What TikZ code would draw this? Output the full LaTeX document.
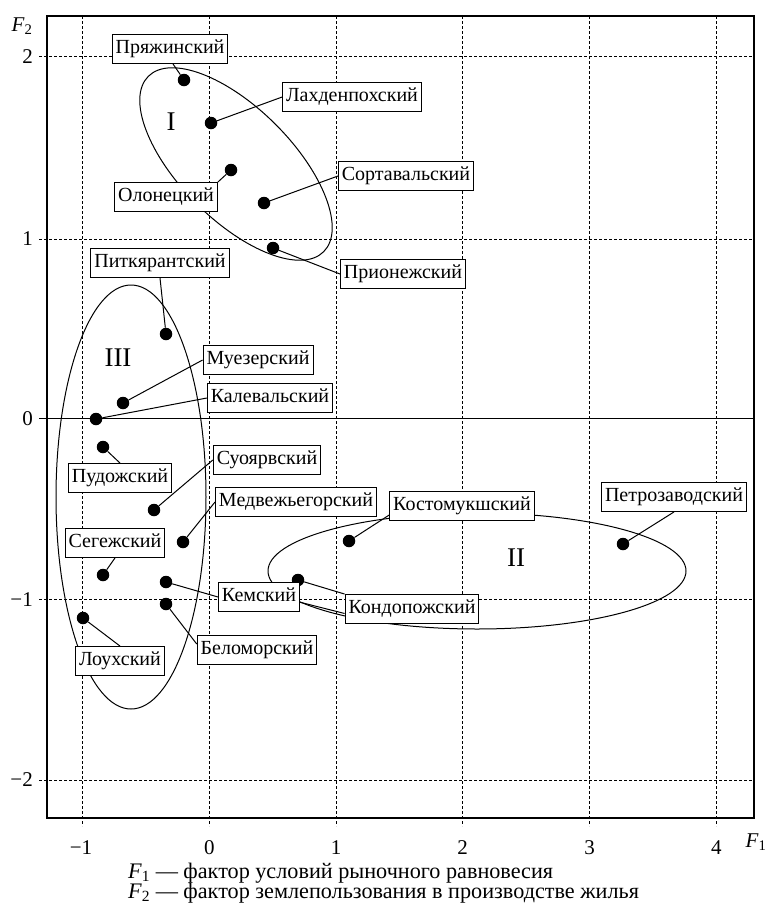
\documentclass[tikz,border=0pt]{standalone}
\usepackage{fontspec}
\setmainfont{Liberation Serif}
\usetikzlibrary{calc}
\begin{document}
\begin{tikzpicture}[x=1pt,y=-1pt,
  lbl/.style={draw, line width=0.9pt, fill=white, inner xsep=3.5pt, inner ysep=0pt,
    minimum height=29pt, text height=13.5pt, text depth=4.5pt, font=\fontsize{20}{20}\selectfont},
  pt/.style={circle, fill=black, inner sep=0pt, minimum size=12.5pt},
  conn/.style={line width=1pt},
  gridl/.style={dash pattern=on 3pt off 2pt, line width=0.8pt},
  tick/.style={font=\fontsize{21}{21}\selectfont, inner sep=0pt},
  capt/.style={font=\fontsize{22.2}{22.2}\selectfont, inner sep=0pt, anchor=base west},
  roman/.style={font=\fontsize{27}{27}\selectfont, inner sep=0pt}]
\useasboundingbox (0,0) rectangle (768,911);
% grid
\foreach \x in {82.7,209.3,336,462.7,589.7,716.3}
  \draw[gridl] (\x,16) -- (\x,826);
\foreach \y in {56.7,239,599.3,780}
  \draw[gridl] (39,\y) -- (754,\y);
\draw[line width=1pt] (39,418.7) -- (754,418.7);
\draw[line width=1.2pt] (47,16) rectangle (754,818);
% tick labels
\node[tick, anchor=east] at (33,56.7) {2};
\node[tick, anchor=east] at (33,239) {1};
\node[tick, anchor=east] at (33,418.7) {0};
\node[tick, anchor=east] at (33,599.3) {−1};
\node[tick, anchor=east] at (33,780) {−2};
\node[tick] at (81,848) {−1};
\node[tick] at (209.3,848) {0};
\node[tick] at (336,848) {1};
\node[tick] at (462.7,848) {2};
\node[tick] at (589.7,848) {3};
\node[tick] at (716.3,848) {4};
\node[tick] at (22,26) {\textit{F}\textsubscript{2}};
\node[tick] at (756,842) {\textit{F}\textsubscript{1}};
% caption
\node[capt] at (128,878) {\textit{F}\textsubscript{1} — фактор условий рыночного равновесия};
\node[capt] at (128,898) {\textit{F}\textsubscript{2} — фактор землепользования в производстве жилья};
% ellipses
\draw[conn, rotate around={-45:(236,164)}] (236,164) ellipse [x radius=124pt, y radius=56pt];
\draw[conn] (131,497) ellipse [x radius=75pt, y radius=212pt];
\draw[conn] (477,571) ellipse [x radius=209pt, y radius=58pt];
\node[roman] at (171,122) {I};
\node[roman] at (118,358) {III};
\node[roman] at (516,558) {II};
% points
\node[pt] (d1) at (184,80) {};
\node[pt] (d2) at (211,123) {};
\node[pt] (d3) at (231,170) {};
\node[pt] (d4) at (264,203) {};
\node[pt] (d5) at (273,248) {};
\node[pt] (d6) at (166,334) {};
\node[pt] (d7) at (123,403) {};
\node[pt] (d8) at (96,419) {};
\node[pt] (d9) at (103,447) {};
\node[pt] (d10) at (154,510) {};
\node[pt] (d11) at (183,542) {};
\node[pt] (d12) at (103,575) {};
\node[pt] (d13) at (166,582) {};
\node[pt] (d14) at (166,604) {};
\node[pt] (d15) at (83,618) {};
\node[pt] (d16) at (349,541) {};
\node[pt] (d17) at (298,580) {};
\node[pt] (d18) at (623,544) {};
% labels
\node[lbl] (b1) at (170,49) {Пряжинский};
\node[lbl] (b2) at (352,97) {Лахденпохский};
\node[lbl] (b3) at (166,197) {Олонецкий};
\node[lbl] (b4) at (406,176) {Сортавальский};
\node[lbl] (b5) at (403,274) {Прионежский};
\node[lbl] (b6) at (160,263) {Питкярантский};
\node[lbl] (b7) at (258,360) {Муезерский};
\node[lbl] (b8) at (270,398) {Калевальский};
\node[lbl] (b9) at (120,478) {Пудожский};
\node[lbl] (b10) at (267,460) {Суоярвский};
\node[lbl] (b11) at (296,502) {Медвежьегорский};
\node[lbl] (b12) at (115,543) {Сегежский};
\node[lbl] (b13) at (259,597) {Кемский};
\node[lbl] (b14) at (257,650) {Беломорский};
\node[lbl] (b15) at (120,661) {Лоухский};
\node[lbl] (b16) at (462,506) {Костомукшский};
\node[lbl] (b17) at (412,609) {Кондопожский};
\node[lbl] (b18) at (674,497) {Петрозаводский};
% connectors
\draw[conn] (d1) -- ($(b1.south)+(3,0)$);
\draw[conn] (d2) -- (b2.west);
\draw[conn] (d3) -- (b3.north east);
\draw[conn] (d4) -- (b4.west);
\draw[conn] (d5) -- (b5.west);
\draw[conn] (d6) -- (b6.south);
\draw[conn] (d7) -- (b7.west);
\draw[conn] (d8) -- (b8.west);
\draw[conn] (d9) -- (b9.north);
\draw[conn] (d10) -- (b10.west);
\draw[conn] (d11) -- (b11.west);
\draw[conn] (d12) -- (b12.south);
\draw[conn] (d13) -- (b13.west);
\draw[conn] (d14) -- ($(b14.north west)!0.3!(b14.south west)$);
\draw[conn] (d15) -- (b15.north);
\draw[conn] (d16) -- ($(b16.west)!0.6!(b16.south west)$);
\draw[conn] (d17) -- (b17.north west);
\draw[conn] (d18) -- (b18.south);
\draw[conn] ($(b13.east)!0.35!(b13.south east)$) -- ($(b17.west)!0.3!(b17.south west)$);
\end{tikzpicture}
\end{document}
